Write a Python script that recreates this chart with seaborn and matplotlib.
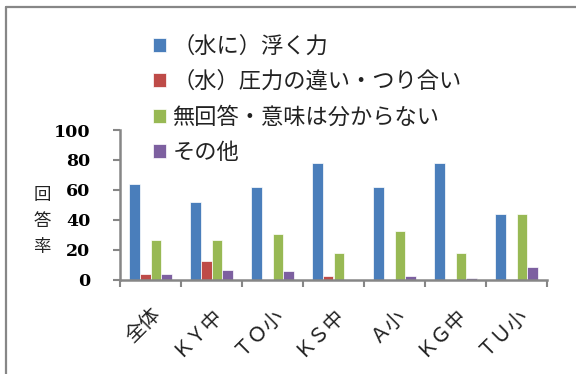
import matplotlib
matplotlib.use("Agg")
import matplotlib.pyplot as plt
from matplotlib.lines import Line2D
import numpy as np
import pandas as pd
import seaborn as sns

# Survey groups and response shares (%)
groups = ["全体", "ＫＹ中", "ＴＯ小", "ＫＳ中", "Ａ小", "ＫＧ中", "ＴＵ小"]
answers = ["（水に）浮く力", "（水）圧力の違い・つり合い", "無回答・意味は分からない", "その他"]
floating_force = [64, 52, 62, 78, 62, 78, 44]
pressure_balance = [4, 13, 0, 3, 0, 0, 0]
no_answer = [27, 27, 31, 18, 33, 18, 44]
other = [4, 7, 6, 0, 3, 1.5, 9]
yticks = [0, 20, 40, 60, 80, 100]

colors = ["#4A7EBB", "#BE4B48", "#98B954", "#7D60A0"]

series = [floating_force, pressure_balance, no_answer, other]
df = pd.DataFrame({
    "group": [g for s in series for g in groups],
    "answer": [a for a, s in zip(answers, series) for _ in s],
    "rate": [v for s in series for v in s],
})

sns.set_theme(style="white")
plt.rcParams["font.family"] = ["Noto Sans CJK JP", "DejaVu Sans"]

fig = plt.figure(figsize=(5.76, 3.74), dpi=100)
ax = fig.add_axes([120 / 576, 1 - 280 / 374, 427 / 576, 150 / 374])

sns.barplot(data=df, x="group", y="rate", hue="answer", order=groups,
            hue_order=answers, palette=colors, width=0.72, ax=ax,
            edgecolor="white", linewidth=0.5, saturation=1, legend=True)

ax.set_ylim(0, 100)
ax.set_yticks(yticks)
ax.set_yticklabels([str(t) for t in yticks], family="DejaVu Serif",
                   fontweight="bold", fontsize=12.5)
ax.set_xlim(-0.5, len(groups) - 0.5)
ax.set_xticks(range(len(groups)))
ax.set_xticklabels(groups, rotation=45, ha="right", rotation_mode="anchor",
                   fontsize=14.5, color="#222222")
ax.set_xticks(np.arange(-0.5, len(groups)), minor=True)
ax.tick_params(axis="x", which="major", length=0, pad=17)
ax.tick_params(axis="x", which="minor", length=5, width=1.5, color="#868686",
               bottom=True)
ax.tick_params(axis="y", length=5, width=1.5, color="#868686", left=True,
               pad=16.5, labelcolor="black")

for side in ("top", "right"):
    ax.spines[side].set_visible(False)
for side in ("left", "bottom"):
    ax.spines[side].set_color("#868686")
    ax.spines[side].set_linewidth(1.8)

ax.set_xlabel("")
ax.set_ylabel("")
fig.text(42 / 576, 1 - 221 / 374, "回\n答\n率", ha="center", va="center",
         fontsize=12.5, linespacing=1.55, color="#222222")

handles, labels = ax.get_legend_handles_labels()
ax.legend(handles, labels, loc="upper left",
          bbox_to_anchor=(153 / 576, 1 - 35 / 374), bbox_transform=fig.transFigure,
          frameon=False, fontsize=16, handlelength=0.58, handleheight=0.58,
          handletextpad=0.3, labelspacing=0.55, borderpad=0, borderaxespad=0,
          labelcolor="#222222")

# Chart frame (only the top and left edges lie inside the image)
fig.add_artist(Line2D([5.5 / 576, 5.5 / 576], [0, 1 - 6.5 / 374],
                      transform=fig.transFigure, color="#878787", lw=1.6))
fig.add_artist(Line2D([5.5 / 576, 1], [1 - 6.5 / 374, 1 - 6.5 / 374],
                      transform=fig.transFigure, color="#878787", lw=1.6))

fig.savefig("out.png", dpi=100)
